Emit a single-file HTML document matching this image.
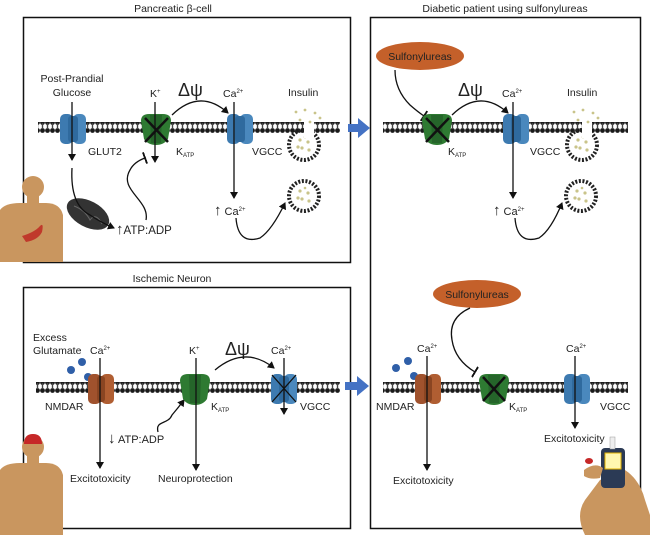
<!DOCTYPE html>
<html><head><meta charset="utf-8"><style>
html,body{margin:0;padding:0;background:#fff;width:650px;height:535px;overflow:hidden}
svg{display:block;font-family:"Liberation Sans",sans-serif}
</style></head><body>
<svg width="650" height="535" viewBox="0 0 650 535" xmlns="http://www.w3.org/2000/svg">
<defs>
<pattern id="mem" x="0" y="0" width="5" height="20" patternUnits="userSpaceOnUse">
<circle cx="2.5" cy="2.5" r="2.4" fill="#1a1a1a"/>
<circle cx="2.5" cy="10.5" r="2.4" fill="#1a1a1a"/>
<rect x="1.8" y="3" width="1.4" height="6" fill="#444"/>
</pattern>
<marker id="ah" markerWidth="8" markerHeight="8" refX="6" refY="4" orient="auto" markerUnits="userSpaceOnUse"><path d="M0,0 L7,4 L0,8 Z" fill="#111"/></marker>
<marker id="tb" markerWidth="2" markerHeight="12" refX="1" refY="6" orient="auto" markerUnits="userSpaceOnUse"><rect x="0" y="0" width="2" height="12" fill="#111"/></marker>
<g id="blue"><rect x="-13" y="-15" width="13" height="30" rx="5" fill="#3d7ab0"/><rect x="0" y="-15" width="13" height="30" rx="5" fill="#4a88bd"/><rect x="-5" y="-13" width="10" height="26" rx="3" fill="#2f6a9e"/></g>
<g id="brown"><rect x="-13" y="-15" width="13" height="30" rx="5" fill="#a0522d"/><rect x="0" y="-15" width="13" height="30" rx="5" fill="#b05e32"/><rect x="-4" y="-13" width="8" height="26" rx="3" fill="#8a4522"/></g>
<g id="green"><path d="M-15,-8 Q-15,-15 -7,-15 L7,-15 Q15,-15 15,-8 L12,10 Q8,16 0,16 Q-8,16 -12,10 Z" fill="#2e7a32"/><path d="M-6,-14 L6,-14 L5,14 L-5,14 Z" fill="#25652a"/></g>
<g id="ves"><circle r="15" fill="none" stroke="#222" stroke-width="4" stroke-dasharray="2 1.6"/><circle r="11" fill="#fff"/><g fill="#c9c48a"><circle cx="-4" cy="-5" r="1.6"/><circle cx="4" cy="-3" r="1.6"/><circle cx="-2" cy="3" r="1.6"/><circle cx="5" cy="5" r="1.6"/><circle cx="-6" cy="2" r="1.6"/><circle cx="1" cy="-8" r="1.3"/></g></g>
</defs>
<g font-size="10.5" fill="#222">
<rect x="23.5" y="17.5" width="327" height="245" fill="none" stroke="#111" stroke-width="1.5"/>
<rect x="23.5" y="287.5" width="327" height="241" fill="none" stroke="#111" stroke-width="1.5"/>
<rect x="370.5" y="17.5" width="270" height="511" fill="none" stroke="#111" stroke-width="1.5"/>
<text x="173" y="12" text-anchor="middle">Pancreatic β-cell</text>
<text x="172" y="282" text-anchor="middle">Ischemic Neuron</text>
<text x="505" y="12" text-anchor="middle">Diabetic patient using sulfonylureas</text>
<rect x="38" y="122" width="302" height="14" fill="url(#mem)"/>
<rect x="383" y="122" width="245" height="14" fill="url(#mem)"/>
<rect x="36" y="382" width="304" height="14" fill="url(#mem)"/>
<rect x="383" y="382" width="245" height="14" fill="url(#mem)"/>
<path d="M348,124 h10 v-6 l12,10 l-12,10 v-6 h-10 Z" fill="#4472c4"/>
<path d="M345,382 h12 v-6 l12,10 l-12,10 v-6 h-12 Z" fill="#4472c4"/>

<text x="72" y="82" text-anchor="middle">Post-Prandial</text>
<text x="72" y="96" text-anchor="middle">Glucose</text>
<use href="#blue" x="73" y="129"/>
<text x="88" y="155">GLUT2</text>
<line x1="72" y1="102" x2="72" y2="160" stroke="#111" stroke-width="1.3" marker-end="url(#ah)"/>
<ellipse cx="88" cy="214" rx="23" ry="13" transform="rotate(28 88 214)" fill="#333"/>
<path d="M74,206 Q85,210 90,220 Q96,212 102,224" fill="none" stroke="#666" stroke-width="1"/>
<path d="M72,168 Q70,205 90,215 Q100,222 114,228" fill="none" stroke="#111" stroke-width="1.3" marker-end="url(#ah)"/>
<text x="116" y="234" font-size="11.5"><tspan font-size="15">↑</tspan>ATP:ADP</text>
<path d="M146,220 C150,200 118,190 130,170 Q134,162 145,158" fill="none" stroke="#111" stroke-width="1.3" marker-end="url(#tb)"/>
<text x="150" y="97">K<tspan font-size="6" dy="-4">+</tspan></text>
<use href="#green" x="156" y="129"/>
<path d="M145,118 L168,142 M168,118 L145,142" stroke="#111" stroke-width="2.5"/>
<line x1="155" y1="102" x2="155" y2="162" stroke="#111" stroke-width="1.3" marker-end="url(#ah)"/>
<text x="176" y="155">K<tspan font-size="6" dy="2">ATP</tspan></text>
<text x="178" y="96" font-size="18">Δψ</text>
<path d="M172,115 Q200,88 228,113" fill="none" stroke="#111" stroke-width="1.3" marker-end="url(#ah)"/>
<text x="223" y="97">Ca<tspan font-size="6" dy="-4">2+</tspan></text>
<use href="#blue" x="240" y="129"/>
<text x="252" y="155">VGCC</text>
<line x1="234" y1="102" x2="234" y2="198" stroke="#111" stroke-width="1.3" marker-end="url(#ah)"/>
<text x="214" y="215" font-size="11"><tspan font-size="15">↑</tspan> Ca<tspan font-size="6" dy="-4">2+</tspan></text>
<path d="M236,218 Q238,245 260,238 Q272,230 285,203" fill="none" stroke="#111" stroke-width="1.3" marker-end="url(#ah)"/>
<text x="288" y="96">Insulin</text>
<use href="#ves" x="304" y="145"/>
<rect x="304" y="118" width="10" height="20" fill="#fff"/>
<g fill="#c9c48a"><circle cx="296" cy="112" r="1.4"/><circle cx="305" cy="110" r="1.4"/><circle cx="315" cy="113" r="1.4"/><circle cx="300" cy="120" r="1.4"/><circle cx="310" cy="122" r="1.4"/><circle cx="320" cy="118" r="1.4"/></g>
<use href="#ves" x="304" y="196"/>
<g fill="#c9965f"><circle cx="33" cy="187" r="11"/><rect x="27" y="195" width="12" height="10"/><path d="M0,210 Q5,203 20,203 L46,203 Q60,203 63,215 L63,262 L0,262 Z"/></g>
<path d="M22,236 Q35,232 40,226 Q44,222 42,232 Q38,240 26,242 Z" fill="#c0392b"/>

<text x="33" y="341">Excess</text>
<text x="33" y="354">Glutamate</text>
<g fill="#2f5fa8"><circle cx="71" cy="370" r="4"/><circle cx="82" cy="362" r="4"/><circle cx="88" cy="377" r="4"/></g>
<text x="90" y="354">Ca<tspan font-size="6" dy="-4">2+</tspan></text>
<use href="#brown" x="101" y="389"/>
<text x="45" y="410">NMDAR</text>
<line x1="100" y1="358" x2="100" y2="468" stroke="#111" stroke-width="1.3" marker-end="url(#ah)"/>
<text x="70" y="482">Excitotoxicity</text>
<text x="108" y="443" font-size="11"><tspan font-size="15">↓</tspan> ATP:ADP</text>
<path d="M158,432 C155,420 168,425 172,415 Q178,408 184,400" fill="none" stroke="#111" stroke-width="1.3" marker-end="url(#ah)"/>
<text x="189" y="354">K<tspan font-size="6" dy="-4">+</tspan></text>
<use href="#green" x="195" y="389"/>
<line x1="196" y1="358" x2="196" y2="470" stroke="#111" stroke-width="1.3" marker-end="url(#ah)"/>
<text x="211" y="410">K<tspan font-size="6" dy="2">ATP</tspan></text>
<text x="158" y="482">Neuroprotection</text>
<text x="225" y="355" font-size="18">Δψ</text>
<path d="M215,370 Q245,345 274,368" fill="none" stroke="#111" stroke-width="1.3" marker-end="url(#ah)"/>
<text x="271" y="354">Ca<tspan font-size="6" dy="-4">2+</tspan></text>
<use href="#blue" x="284" y="389"/>
<path d="M272,375 L296,402 M296,375 L272,402" stroke="#111" stroke-width="1.3"/>
<line x1="284" y1="358" x2="284" y2="414" stroke="#111" stroke-width="1.3" marker-end="url(#ah)"/>
<text x="300" y="410">VGCC</text>
<g fill="#c9965f"><circle cx="33" cy="447" r="11"/><rect x="27" y="455" width="12" height="10"/><path d="M0,470 Q5,463 20,463 L46,463 Q60,463 63,475 L63,535 L0,535 Z"/></g>
<path d="M24,444 Q24,434 33,434 Q42,434 42,444 Z" fill="#c62828"/>

<ellipse cx="420" cy="56" rx="44" ry="14" fill="#c4602a"/>
<text x="420" y="60" text-anchor="middle" font-size="10.5">Sulfonylureas</text>
<path d="M395,70 Q395,90 410,105 Q418,112 424,116" fill="none" stroke="#111" stroke-width="1.3" marker-end="url(#tb)"/>
<use href="#green" x="437" y="129"/>
<path d="M426,118 L449,142 M449,118 L426,142" stroke="#111" stroke-width="2.5"/>
<text x="448" y="155">K<tspan font-size="6" dy="2">ATP</tspan></text>
<text x="458" y="96" font-size="18">Δψ</text>
<path d="M452,115 Q480,88 508,113" fill="none" stroke="#111" stroke-width="1.3" marker-end="url(#ah)"/>
<text x="502" y="97">Ca<tspan font-size="6" dy="-4">2+</tspan></text>
<use href="#blue" x="516" y="129"/>
<text x="530" y="155">VGCC</text>
<line x1="513" y1="102" x2="513" y2="198" stroke="#111" stroke-width="1.3" marker-end="url(#ah)"/>
<text x="493" y="215" font-size="11"><tspan font-size="15">↑</tspan> Ca<tspan font-size="6" dy="-4">2+</tspan></text>
<path d="M515,218 Q517,245 539,238 Q551,230 562,203" fill="none" stroke="#111" stroke-width="1.3" marker-end="url(#ah)"/>
<text x="567" y="96">Insulin</text>
<use href="#ves" x="582" y="145"/>
<rect x="582" y="118" width="10" height="20" fill="#fff"/>
<g fill="#c9c48a"><circle cx="574" cy="112" r="1.4"/><circle cx="583" cy="110" r="1.4"/><circle cx="593" cy="113" r="1.4"/><circle cx="578" cy="120" r="1.4"/><circle cx="588" cy="122" r="1.4"/><circle cx="598" cy="118" r="1.4"/></g>
<use href="#ves" x="581" y="196"/>

<ellipse cx="477" cy="294" rx="44" ry="14" fill="#c4602a"/>
<text x="477" y="298" text-anchor="middle" font-size="10.5">Sulfonylureas</text>
<path d="M470,308 Q448,318 452,340 Q455,360 475,372" fill="none" stroke="#111" stroke-width="1.3" marker-end="url(#tb)"/>
<g fill="#2f5fa8"><circle cx="396" cy="368" r="4"/><circle cx="408" cy="361" r="4"/><circle cx="414" cy="376" r="4"/></g>
<text x="417" y="352">Ca<tspan font-size="6" dy="-4">2+</tspan></text>
<use href="#brown" x="428" y="389"/>
<text x="376" y="410">NMDAR</text>
<line x1="427" y1="356" x2="427" y2="470" stroke="#111" stroke-width="1.3" marker-end="url(#ah)"/>
<text x="393" y="484">Excitotoxicity</text>
<use href="#green" x="494" y="389"/>
<path d="M483,377 L505,401 M505,377 L483,401" stroke="#111" stroke-width="2.5"/>
<text x="509" y="410">K<tspan font-size="6" dy="2">ATP</tspan></text>
<text x="566" y="352">Ca<tspan font-size="6" dy="-4">2+</tspan></text>
<use href="#blue" x="577" y="389"/>
<line x1="575" y1="356" x2="575" y2="428" stroke="#111" stroke-width="1.3" marker-end="url(#ah)"/>
<text x="600" y="410">VGCC</text>
<text x="544" y="442">Excitotoxicity</text>
<path d="M585,535 Q575,515 585,500 L600,480 L625,470 Q640,480 645,500 L650,515 L650,535 Z" fill="#c9965f"/>
<rect x="601" y="448" width="24" height="40" rx="4" fill="#2b3a55"/>
<rect x="605" y="453" width="16" height="16" fill="#fff7b0" stroke="#e0b000"/>
<rect x="610" y="437" width="5" height="12" fill="#eee" stroke="#999" stroke-width="0.5"/>
<ellipse cx="589" cy="461" rx="4" ry="3" fill="#c62828"/>
<path d="M584,470 Q595,462 603,468 L600,478 Q590,480 584,476 Z" fill="#c9965f"/>
</g>
</svg>
</body></html>
